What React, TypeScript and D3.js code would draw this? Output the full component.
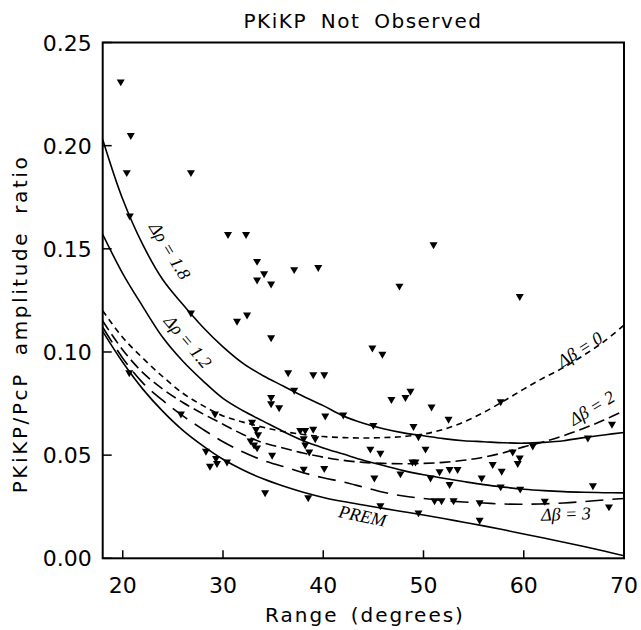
import { useRef, useEffect } from "react";
import * as d3 from "d3";

const W = 641;
const H = 630;
const plot = { left: 102.7, right: 624, top: 42.5, bottom: 558.3 };

// ranges (degrees) at which the model curves were read
const rangeDeg = [18, 20, 22, 24, 26, 28, 30, 32, 34, 36, 38, 40, 42, 44, 46, 48, 50, 52, 54, 56, 58, 60, 62, 64, 66, 68, 70];

const rho18 = [0.203, 0.174, 0.152, 0.135, 0.123, 0.112, 0.1025, 0.0945, 0.0885, 0.0835, 0.0785, 0.074, 0.069, 0.0655, 0.0628, 0.0608, 0.0594, 0.058, 0.057, 0.0565, 0.056, 0.0558, 0.0562, 0.057, 0.0585, 0.0598, 0.061];
const rho12 = [0.157, 0.138, 0.122, 0.107, 0.0955, 0.086, 0.0775, 0.0715, 0.0665, 0.0615, 0.057, 0.0535, 0.0505, 0.0475, 0.045, 0.0425, 0.0405, 0.0388, 0.0372, 0.0357, 0.0345, 0.0335, 0.0328, 0.0323, 0.032, 0.0318, 0.0317];
const prem = [0.110, 0.095, 0.082, 0.0712, 0.062, 0.0545, 0.048, 0.0428, 0.0385, 0.035, 0.032, 0.0295, 0.0275, 0.0258, 0.0242, 0.0226, 0.021, 0.0193, 0.0175, 0.0157, 0.0138, 0.0118, 0.0098, 0.0078, 0.0057, 0.0035, 0.0012];
const beta0 = [0.120, 0.107, 0.097, 0.088, 0.080, 0.074, 0.069, 0.066, 0.0635, 0.0615, 0.060, 0.059, 0.0585, 0.0583, 0.0585, 0.059, 0.0602, 0.0625, 0.066, 0.0707, 0.0762, 0.082, 0.0875, 0.0925, 0.0985, 0.105, 0.113];
const beta2 = [0.115, 0.101, 0.090, 0.082, 0.0755, 0.070, 0.065, 0.060, 0.056, 0.0535, 0.051, 0.049, 0.0475, 0.0465, 0.046, 0.0458, 0.046, 0.0465, 0.0475, 0.049, 0.0512, 0.054, 0.0565, 0.0595, 0.063, 0.067, 0.0715];
const beta3 = [0.112, 0.097, 0.085, 0.0765, 0.069, 0.0625, 0.0565, 0.0515, 0.0475, 0.0445, 0.0415, 0.039, 0.037, 0.0345, 0.032, 0.0302, 0.029, 0.028, 0.0273, 0.0268, 0.0263, 0.0262, 0.0264, 0.0268, 0.0275, 0.0283, 0.029];

// observations (range, amplitude ratio)
const obsRange = [19.8, 20.8, 20.4, 26.8, 20.7, 30.5, 32.3, 33.4, 34.1, 33.4, 34.8, 37.1, 39.5, 51.0, 47.6, 59.6, 26.8, 31.4, 32.4, 34.8, 44.9, 45.9, 36.5, 39.0, 40.1, 20.65, 37.1, 48.7, 46.8, 48.2, 34.8, 34.8, 35.6, 57.7, 50.8, 25.8, 29.2, 40.2, 42.0, 52.5, 45.0, 49.0, 32.9, 33.3, 33.5, 37.7, 38.2, 39.0, 38.05, 39.2, 68.8, 49.5, 50.2, 60.9, 66.4, 32.75, 33.1, 33.4, 34.9, 38.2, 38.6, 44.7, 45.7, 58.9, 59.6, 59.4, 28.3, 29.3, 28.7, 29.4, 30.4, 48.9, 49.2, 56.9, 57.8, 51.6, 52.6, 53.4, 38.05, 40.1, 47.7, 45.1, 50.7, 55.8, 52.6, 57.7, 59.65, 66.9, 34.2, 38.5, 51.1, 51.8, 53.0, 55.6, 62.1, 68.5, 45.7, 49.5, 55.6];
const obsRatio = [0.231, 0.205, 0.187, 0.187, 0.166, 0.157, 0.157, 0.144, 0.138, 0.135, 0.133, 0.140, 0.141, 0.152, 0.132, 0.127, 0.119, 0.115, 0.118, 0.107, 0.102, 0.099, 0.090, 0.089, 0.089, 0.090, 0.0815, 0.081, 0.077, 0.078, 0.078, 0.075, 0.073, 0.076, 0.0734, 0.070, 0.070, 0.069, 0.0695, 0.0675, 0.0645, 0.064, 0.066, 0.0625, 0.060, 0.062, 0.062, 0.0626, 0.058, 0.058, 0.065, 0.059, 0.053, 0.0545, 0.0584, 0.057, 0.055, 0.0536, 0.050, 0.055, 0.0516, 0.053, 0.051, 0.0516, 0.0487, 0.046, 0.052, 0.0484, 0.0447, 0.046, 0.0468, 0.0468, 0.0468, 0.0455, 0.0423, 0.042, 0.0431, 0.0431, 0.0432, 0.0436, 0.041, 0.039, 0.039, 0.039, 0.0358, 0.0347, 0.0336, 0.0352, 0.0318, 0.0294, 0.028, 0.028, 0.028, 0.027, 0.0277, 0.025, 0.0255, 0.0221, 0.0185];

const xTicks = [20, 30, 40, 50, 60, 70];
const yTicks = [0, 0.05, 0.1, 0.15, 0.2, 0.25];

const curves = [
  { name: "rho18", values: rho18, dash: null },
  { name: "rho12", values: rho12, dash: null },
  { name: "prem", values: prem, dash: null },
  { name: "beta0", values: beta0, dash: "6,4.5" },
  { name: "beta2", values: beta2, dash: "11,5" },
  { name: "beta3", values: beta3, dash: "18,9" },
];

const labels = [
  { text: "\u0394\u03C1 = 1.8", range: 24.7, ratio: 0.149, angle: 59 },
  { text: "\u0394\u03C1 = 1.2", range: 26.5, ratio: 0.105, angle: 50 },
  { text: "\u0394\u03B2 = 0", range: 65.6, ratio: 0.1012, angle: -33 },
  { text: "\u0394\u03B2 = 2", range: 66.8, ratio: 0.0728, angle: -31 },
  { text: "\u0394\u03B2 = 3", range: 64.2, ratio: 0.0215, angle: -2 },
  { text: "PREM", range: 43.9, ratio: 0.0205, angle: 12 },
];

export default function App() {
  const svgRef = useRef<SVGSVGElement>(null);

  useEffect(() => {
    const svg = d3.select(svgRef.current);
    svg.selectAll("*").remove();

    const x = d3.scaleLinear().domain([18, 70]).range([plot.left, plot.right]);
    const y = d3.scaleLinear().domain([0, 0.25]).range([plot.bottom, plot.top]);

    const sans = "'DejaVu Sans', sans-serif";
    const serif = "'Liberation Serif', 'Times New Roman', serif";

    // curves
    const line = d3
      .line<number>()
      .x((_, i) => x(rangeDeg[i]))
      .y((v) => y(v))
      .curve(d3.curveCatmullRom);

    svg
      .append("defs")
      .append("clipPath")
      .attr("id", "clip")
      .append("rect")
      .attr("x", plot.left)
      .attr("y", plot.top)
      .attr("width", plot.right - plot.left)
      .attr("height", plot.bottom - plot.top);

    svg
      .append("g")
      .attr("clip-path", "url(#clip)")
      .selectAll("path")
      .data(curves)
      .join("path")
      .attr("d", (c) => line(c.values))
      .attr("fill", "none")
      .attr("stroke", "#000")
      .attr("stroke-width", 1.6)
      .attr("stroke-dasharray", (c) => c.dash);

    // observations
    const tri = d3.symbol(d3.symbolTriangle, 28);
    svg
      .append("g")
      .selectAll("path")
      .data(obsRange)
      .join("path")
      .attr("d", tri)
      .attr("transform", (d, i) => `translate(${x(d)},${y(obsRatio[i])}) rotate(180)`)
      .attr("fill", "#000");

    // curve labels
    svg
      .append("g")
      .selectAll("text")
      .data(labels)
      .join("text")
      .attr("transform", (l) => `translate(${x(l.range)},${y(l.ratio)}) rotate(${l.angle})`)
      .attr("text-anchor", "middle")
      .attr("dominant-baseline", "central")
      .style("font-family", serif)
      .style("font-style", "italic")
      .style("font-size", "18px")
      .text((l) => l.text);

    // frame
    svg
      .append("rect")
      .attr("x", plot.left)
      .attr("y", plot.top)
      .attr("width", plot.right - plot.left)
      .attr("height", plot.bottom - plot.top)
      .attr("fill", "none")
      .attr("stroke", "#000")
      .attr("stroke-width", 2);

    // x ticks
    const xg = svg.append("g");
    xg.selectAll("line")
      .data(xTicks)
      .join("line")
      .attr("x1", (d) => x(d))
      .attr("x2", (d) => x(d))
      .attr("y1", plot.bottom)
      .attr("y2", plot.bottom - 8)
      .attr("stroke", "#000")
      .attr("stroke-width", 1.5);
    xg.selectAll("text")
      .data(xTicks)
      .join("text")
      .attr("x", (d) => x(d))
      .attr("y", plot.bottom + 35)
      .attr("text-anchor", "middle")
      .style("font-family", sans)
      .style("font-size", "22px")
      .text((d) => d);

    // y ticks
    const yg = svg.append("g");
    yg.selectAll("line")
      .data(yTicks)
      .join("line")
      .attr("x1", plot.left)
      .attr("x2", plot.left + 9)
      .attr("y1", (d) => y(d))
      .attr("y2", (d) => y(d))
      .attr("stroke", "#000")
      .attr("stroke-width", 1.5);
    yg.selectAll("text")
      .data(yTicks)
      .join("text")
      .attr("x", plot.left - 11)
      .attr("y", (d) => y(d) + 8)
      .attr("text-anchor", "end")
      .style("font-family", sans)
      .style("font-size", "22px")
      .text((d) => d3.format(".2f")(d));

    // title and axis titles
    svg
      .append("text")
      .attr("x", 363)
      .attr("y", 28)
      .attr("text-anchor", "middle")
      .style("font-family", sans)
      .style("font-size", "20px")
      .style("letter-spacing", "1.5px")
      .style("word-spacing", "6px")
      .text("PKiKP Not Observed");

    svg
      .append("text")
      .attr("x", 365)
      .attr("y", 622)
      .attr("text-anchor", "middle")
      .style("font-family", sans)
      .style("font-size", "20px")
      .style("letter-spacing", "2px")
      .style("word-spacing", "4px")
      .text("Range (degrees)");

    svg
      .append("text")
      .attr("transform", `translate(27,${(140 + 508) / 2}) rotate(-90)`)
      .attr("text-anchor", "middle")
      .style("font-family", sans)
      .style("font-size", "20px")
      .style("letter-spacing", "2.6px")
      .style("word-spacing", "8px")
      .text("PKiKP/PcP amplitude ratio");
  }, []);

  return (
    <svg
      ref={svgRef}
      width={W}
      height={H}
      style={{ position: "absolute", left: 0, top: 0, background: "#fff" }}
    />
  );
}
